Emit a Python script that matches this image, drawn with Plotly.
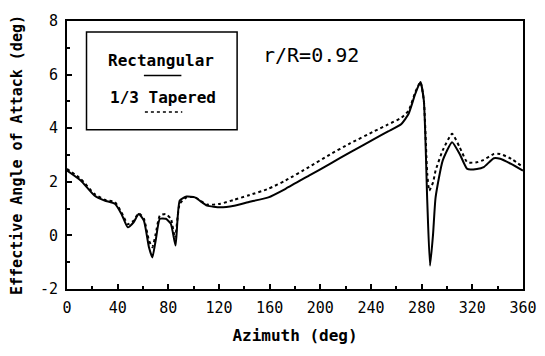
import plotly.graph_objects as go

azimuth_rect = [0, 10.8, 21.6, 29.7, 37.8, 43, 48, 52.6, 56.6, 60.7, 64.7, 67.4, 70, 73.3, 78, 82,
                85.7, 89, 94.4, 101, 110.6, 121, 132, 143, 159, 172.6, 191, 207.6, 223.8, 242.7,
                253.5, 264, 269.7, 275, 279, 281.7, 284.4, 286.6, 289, 291, 296.6, 304, 310, 316,
                323.6, 329, 337, 342, 350.6, 360]
aoa_rect = [2.42, 2.05, 1.49, 1.30, 1.18, 0.80, 0.30, 0.49, 0.80, 0.55, -0.44, -0.82, -0.19, 0.62, 0.62, 0.43,
            -0.38, 1.30, 1.45, 1.42, 1.11, 1.05, 1.11, 1.24, 1.42, 1.74, 2.23, 2.67, 3.11, 3.60,
            3.88, 4.16, 4.54, 5.29, 5.72, 5.04, 1.30, -1.13, 0.05, 1.42, 2.79, 3.48, 3.04, 2.48,
            2.48, 2.55, 2.88, 2.86, 2.67, 2.42]

azimuth_taper = [0, 10.8, 21.6, 29.7, 37.8, 43, 48, 52.6, 56.6, 60.7, 64.7, 67.4, 70, 73.3, 78, 82,
                 85.3, 89, 94.4, 101, 110.6, 121, 132, 143, 159, 172.6, 191, 207.6, 223.8, 242.7,
                 253.5, 264, 269.7, 275, 279, 281.7, 284.4, 286, 289, 291, 296.6, 304, 310, 316,
                 323.6, 329, 337, 342, 350.6, 360]
aoa_taper = [2.48, 2.11, 1.55, 1.33, 1.24, 0.86, 0.42, 0.55, 0.83, 0.62, -0.19, -0.44, 0.05, 0.74, 0.80, 0.62,
             -0.10, 1.18, 1.42, 1.42, 1.15, 1.18, 1.33, 1.49, 1.74, 2.05, 2.55, 3.02, 3.44, 3.89,
             4.14, 4.39, 4.66, 5.35, 5.72, 5.04, 2.30, 1.67, 1.98, 2.42, 3.17, 3.79, 3.29, 2.73,
             2.73, 2.82, 3.04, 3.04, 2.86, 2.55]

x_ticks = [0, 40, 80, 120, 160, 200, 240, 280, 320, 360]
y_ticks = [-2, 0, 2, 4, 6, 8]

MONO = "DejaVu Sans Mono"

fig = go.Figure()
fig.add_trace(go.Scatter(x=azimuth_rect, y=aoa_rect, mode="lines", name="Rectangular",
                         line=dict(color="black", width=2, shape="spline", smoothing=0.5)))
fig.add_trace(go.Scatter(x=azimuth_taper, y=aoa_taper, mode="lines", name="1/3 Tapered",
                         line=dict(color="black", width=2, dash="dot", shape="spline", smoothing=0.5)))

# legend box and samples
fig.add_shape(type="rect", x0=15.4, x1=134.3, y0=3.94, y1=7.59, line=dict(color="black", width=1.5))
fig.add_shape(type="line", x0=60.7, x1=90.3, y0=5.97, y1=5.97, line=dict(color="black", width=1.5))
fig.add_shape(type="line", x0=61.5, x1=91, y0=4.6, y1=4.6, line=dict(color="black", width=1.5, dash="dot"))
fig.add_annotation(x=74.4, y=6.53, text="<b>Rectangular</b>", showarrow=False,
                   font=dict(family=MONO, size=16, color="black"))
fig.add_annotation(x=75.5, y=5.16, text="<b>1/3 Tapered</b>", showarrow=False,
                   font=dict(family=MONO, size=16, color="black"))
fig.add_annotation(x=192.9, y=6.72, text="r/R=0.92", showarrow=False,
                   font=dict(family=MONO, size=20, color="black"))

fig.update_layout(
    width=529, height=340,
    margin=dict(l=59, r=14, t=13, b=59, autoexpand=False),
    paper_bgcolor="white", plot_bgcolor="white",
    showlegend=False,
    font=dict(family=MONO, color="black"),
)
fig.update_xaxes(range=[0, 360], tickvals=x_ticks, ticktext=[str(v) for v in x_ticks],
                 ticks="inside", ticklen=5, tickwidth=1.5, tickcolor="black",
                 minor=dict(dtick=20, ticks="inside", ticklen=3, tickcolor="black", showgrid=False),
                 showline=True, linecolor="black", linewidth=2, mirror=True, showgrid=False, zeroline=False,
                 tickfont=dict(family=MONO, size=15), ticklabelstandoff=4, ticklabeloverflow="allow",
                 automargin=False,
                 title=dict(text="<b>Azimuth (deg)</b>", font=dict(family=MONO, size=16), standoff=14))
fig.update_yaxes(range=[-2, 8], tickvals=y_ticks, ticktext=[str(v) for v in y_ticks],
                 ticks="inside", ticklen=5, tickwidth=1.5, tickcolor="black",
                 minor=dict(dtick=1, ticks="inside", ticklen=3, tickcolor="black", showgrid=False),
                 showline=True, linecolor="black", linewidth=2, mirror=True, showgrid=False, zeroline=False,
                 tickfont=dict(family=MONO, size=15), ticklabelstandoff=4, ticklabeloverflow="allow",
                 automargin=False,
                 title=dict(text="<b>Effective Angle of Attack (deg)</b>", font=dict(family=MONO, size=15), standoff=22))

fig.write_html("out.html")
